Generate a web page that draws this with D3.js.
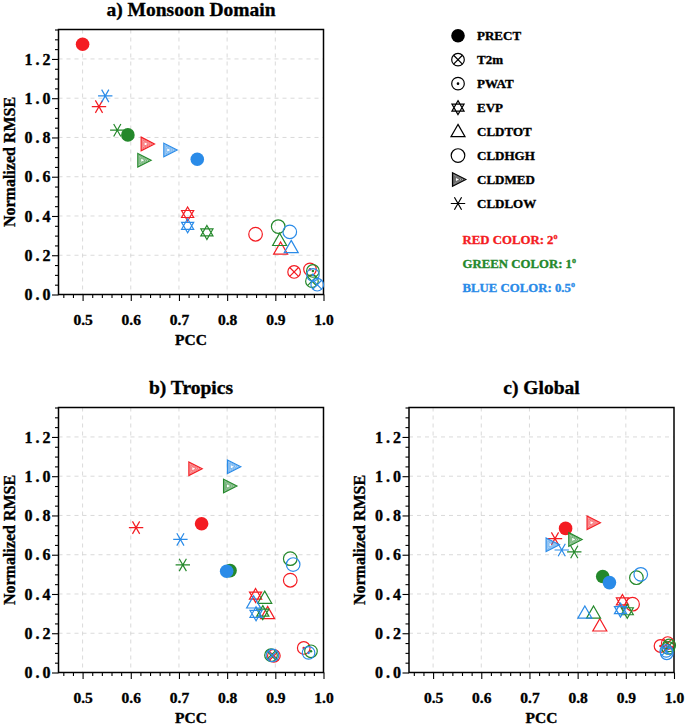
<!DOCTYPE html>
<html><head><meta charset="utf-8">
<script src="https://cdn.jsdelivr.net/npm/d3@7"></script>
<style>body{margin:0;background:#fff;} svg{display:block;font-family:"Liberation Serif","Times New Roman",serif;font-weight:bold;} svg text{stroke-width:0.35px;}</style>
</head><body>
<script>
// ---- data ----
const variables = ["PRECT","T2m","PWAT","EVP","CLDTOT","CLDHGH","CLDMED","CLDLOW"];
const resolutionLabels = ["RED COLOR: 2","GREEN COLOR: 1","BLUE COLOR: 0.5"];
const panelTitles = ["a) Monsoon Domain","b) Tropics","c) Global"];
const xTicks = [0.5,0.6,0.7,0.8,0.9,1.0];
const yTicks = [0.0,0.2,0.4,0.6,0.8,1.0,1.2];

// order of values follows `variables`
const monsoonPcc2  = [0.500,0.939,0.972,0.718,0.911,0.859,0.633,0.534];
const monsoonRmse2 = [1.275,0.115,0.128,0.410,0.231,0.307,0.767,0.957];
const monsoonPcc1  = [0.594,0.976,0.978,0.758,0.909,0.906,0.626,0.572];
const monsoonRmse1 = [0.813,0.068,0.120,0.316,0.275,0.346,0.684,0.837];
const monsoonPcc05 = [0.738,0.987,0.978,0.718,0.933,0.930,0.680,0.547];
const monsoonRmse05= [0.689,0.050,0.100,0.350,0.239,0.319,0.736,1.012];

const tropicsPcc2  = [0.747,0.897,0.959,0.859,0.884,0.931,0.732,0.611];
const tropicsRmse2 = [0.758,0.085,0.125,0.392,0.300,0.470,1.038,0.738];
const tropicsPcc1  = [0.806,0.891,0.974,0.874,0.878,0.931,0.804,0.708];
const tropicsRmse1 = [0.519,0.088,0.108,0.305,0.378,0.580,0.950,0.548];
const tropicsPcc05 = [0.799,0.894,0.969,0.860,0.855,0.937,0.812,0.703];
const tropicsRmse05= [0.516,0.087,0.100,0.299,0.354,0.550,1.048,0.678];

const globalPcc2   = [0.775,0.987,0.972,0.893,0.846,0.914,0.831,0.753];
const globalRmse2  = [0.734,0.150,0.135,0.362,0.237,0.348,0.763,0.682];
const globalPcc1   = [0.852,0.990,0.988,0.903,0.833,0.922,0.793,0.793];
const globalRmse1  = [0.489,0.138,0.125,0.312,0.302,0.483,0.678,0.614];
const globalPcc05  = [0.866,0.984,0.985,0.889,0.815,0.931,0.746,0.767];
const globalRmse05 = [0.458,0.110,0.098,0.318,0.302,0.500,0.651,0.624];

const colors = ["#f41c22","#24882b","#2a8be8"];

const panels = [
  {title:panelTitles[0], left:58.5, top:29.5, series:[[monsoonPcc2,monsoonRmse2],[monsoonPcc1,monsoonRmse1],[monsoonPcc05,monsoonRmse05]]},
  {title:panelTitles[1], left:58.5, top:407.5, series:[[tropicsPcc2,tropicsRmse2],[tropicsPcc1,tropicsRmse1],[tropicsPcc05,tropicsRmse05]]},
  {title:panelTitles[2], left:409, top:407.5, series:[[globalPcc2,globalRmse2],[globalPcc1,globalRmse1],[globalPcc05,globalRmse05]]}
];
const W = 265, H = 265;

const svg = d3.select("body").append("svg").attr("width",685).attr("height",725);

function triPts(pts){ return "M"+pts.map(p=>p.join(",")).join("L")+"Z"; }

function drawMarker(g, name, color){
  const sw = 1.2;
  if(name==="PRECT"){
    g.append("circle").attr("r",6.8).attr("fill",color);
  } else if(name==="T2m"){
    g.append("circle").attr("r",6.3).attr("fill","none").attr("stroke",color).attr("stroke-width",sw);
    const d=4.4;
    g.append("path").attr("d",`M${-d},${-d}L${d},${d}M${-d},${d}L${d},${-d}`).attr("stroke",color).attr("stroke-width",sw);
  } else if(name==="PWAT"){
    g.append("circle").attr("r",6.3).attr("fill","none").attr("stroke",color).attr("stroke-width",sw);
    g.append("circle").attr("r",1.3).attr("fill",color);
  } else if(name==="EVP"){
    const R=7;
    const up=[-90,30,150].map(a=>[R*Math.cos(a*Math.PI/180),R*Math.sin(a*Math.PI/180)]);
    const dn=[90,210,330].map(a=>[R*Math.cos(a*Math.PI/180),R*Math.sin(a*Math.PI/180)]);
    g.append("path").attr("d",triPts(up)+triPts(dn)).attr("fill","none").attr("stroke",color).attr("stroke-width",sw);
  } else if(name==="CLDTOT"){
    g.append("path").attr("d",triPts([[0,-7.2],[7,5],[-7,5]])).attr("fill","none").attr("stroke",color).attr("stroke-width",sw);
  } else if(name==="CLDHGH"){
    g.append("circle").attr("r",6.8).attr("fill","none").attr("stroke",color).attr("stroke-width",sw);
  } else if(name==="CLDMED"){
    const base=[[-5.5,-6.8],[7.8,0],[-5.5,6.8]];
    const cx=(base[0][0]+base[1][0]+base[2][0])/3;
    [1,0.78,0.56,0.34].forEach(k=>{
      const pts=base.map(p=>[cx+(p[0]-cx)*k,p[1]*k]);
      g.append("path").attr("d",triPts(pts)).attr("fill","none").attr("stroke",color).attr("stroke-width",k===1?sw:0.6);
    });
  } else if(name==="CLDLOW"){
    const L=7.2;
    let d="";
    [0,60,120].forEach(a=>{const c=Math.cos(a*Math.PI/180)*L,s=Math.sin(a*Math.PI/180)*L;d+=`M${-c},${-s}L${c},${s}`;});
    g.append("path").attr("d",d).attr("stroke",color).attr("stroke-width",sw).attr("fill","none");
  }
}

panels.forEach(p=>{
  const x = d3.scaleLinear().domain([0.45,1.0]).range([p.left,p.left+W]);
  const y = d3.scaleLinear().domain([0,1.35]).range([p.top+H,p.top]);
  const g = svg.append("g");
  // grid
  g.selectAll(".gx").data(xTicks.filter(v=>v<1.0)).enter().append("line")
    .attr("x1",d=>x(d)).attr("x2",d=>x(d)).attr("y1",p.top).attr("y2",p.top+H)
    .attr("stroke","#d0d0d0").attr("stroke-width",0.8).attr("stroke-dasharray","4,4");
  g.selectAll(".gy").data(yTicks.filter(v=>v>0)).enter().append("line")
    .attr("y1",d=>y(d)).attr("y2",d=>y(d)).attr("x1",p.left).attr("x2",p.left+W)
    .attr("stroke","#d0d0d0").attr("stroke-width",0.8).attr("stroke-dasharray","4,4");
  // axes
  const xMinor = d3.range(0.46,1.0,0.02).filter(v=>!xTicks.some(t=>Math.abs(t-v)<1e-6));
  const yMinor = d3.range(0.05,1.36,0.05).filter(v=>!yTicks.some(t=>Math.abs(t-v)<1e-6));
  g.append("g").attr("class","xa").attr("transform",`translate(0,${p.top+H})`)
    .call(d3.axisBottom(x).tickValues(xTicks).tickFormat(d3.format(".1f")).tickSize(6.5).tickPadding(13));
  g.append("g").attr("transform",`translate(0,${p.top+H})`)
    .call(d3.axisBottom(x).tickValues(xMinor).tickFormat("").tickSize(3.5)).select(".domain").remove();
  g.append("g").attr("class","ya").attr("transform",`translate(${p.left},0)`)
    .call(d3.axisLeft(y).tickValues(yTicks).tickFormat(d3.format(".1f")).tickSize(6.5).tickPadding(-1.5));
  g.append("g").attr("transform",`translate(${p.left},0)`)
    .call(d3.axisLeft(y).tickValues(yMinor).tickFormat("").tickSize(3.5)).select(".domain").remove();
  g.selectAll(".tick line").attr("stroke","#000").attr("stroke-width",1.1);
  g.selectAll(".domain").remove();
  g.selectAll(".tick text").attr("font-family","Liberation Serif").attr("font-weight","bold").attr("font-size",15.5).attr("fill","#000").attr("stroke","#000");
  g.selectAll(".ya .tick text").attr("font-size",16).attr("letter-spacing","3px");
  // frame
  g.append("rect").attr("x",p.left).attr("y",p.top).attr("width",W).attr("height",H)
    .attr("fill","none").attr("stroke","#000").attr("stroke-width",1.5);
  // titles
  g.append("text").attr("x",p.left+W/2).attr("y",p.top-14).attr("text-anchor","middle")
    .attr("font-size",19.5).attr("stroke","#000").text(p.title);
  g.append("text").attr("x",p.left+W/2).attr("y",p.top+H+50).attr("text-anchor","middle")
    .attr("font-size",15.5).attr("stroke","#000").text("PCC");
  g.append("text").attr("transform",`translate(${p.left-44},${p.top+H/2}) rotate(-90)`)
    .attr("text-anchor","middle").attr("font-size",16).attr("stroke","#000").text("Normalized RMSE");
  // markers
  p.series.forEach((s,ci)=>{
    variables.forEach((v,vi)=>{
      const mg = g.append("g").attr("transform",`translate(${x(s[0][vi])},${y(s[1][vi])})`);
      drawMarker(mg, v, colors[ci]);
    });
  });
});

// legend
const leg = svg.append("g");
const legY = d3.scaleLinear().domain([0,variables.length-1]).range([35.7,203.5]);
variables.forEach((v,i)=>{
  const mg = leg.append("g").attr("transform",`translate(458,${legY(i)})`);
  drawMarker(mg, v, "#000");
  leg.append("text").attr("x",477).attr("y",legY(i)+4.5).attr("font-size",13).attr("stroke","#000").text(v);
});
resolutionLabels.forEach((t,i)=>{
  const tx = leg.append("text").attr("x",462.5).attr("y",243.5+i*24).attr("font-size",12.8)
    .attr("fill",colors[i]).attr("stroke",colors[i]).text(t);
  tx.append("tspan").attr("dy",-5).attr("font-size",8).text("o");
});
</script>
</body></html>
